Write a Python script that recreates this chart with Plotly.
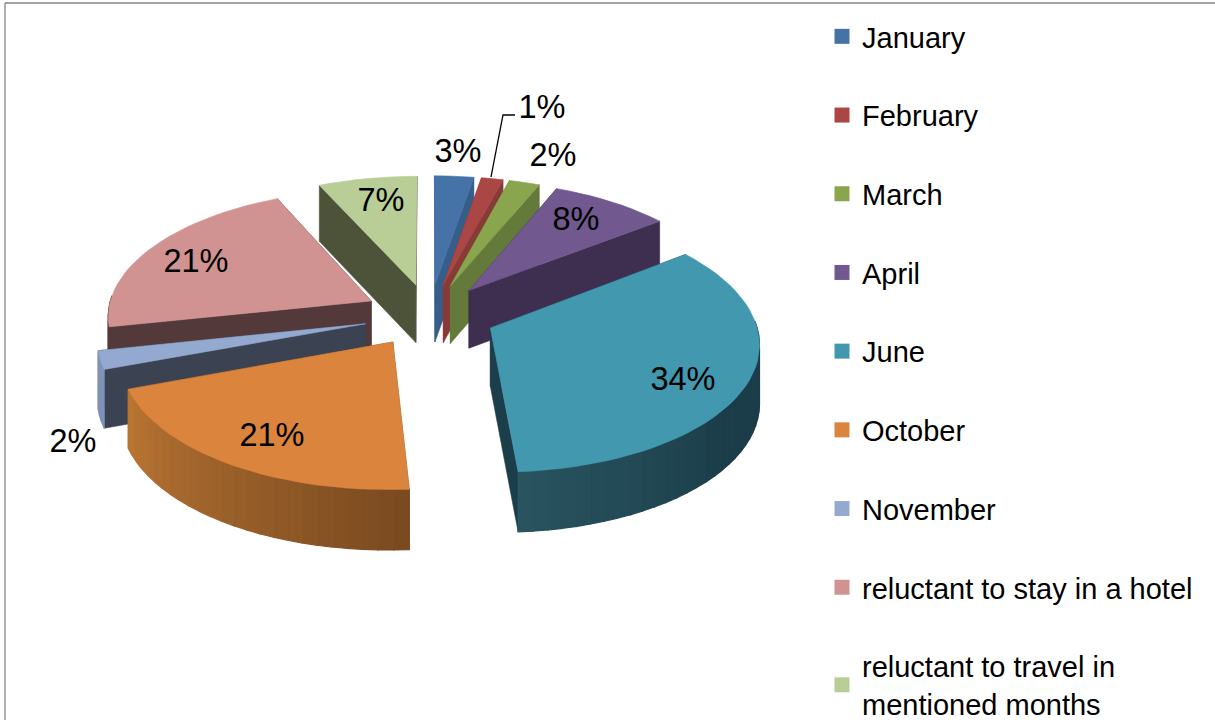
import math
import plotly.graph_objects as go

# ---- data ----
categories = ["January", "February", "March", "April", "June", "October",
              "November", "reluctant to stay in a hotel", "reluctant to travel in<br>mentioned months"]
values = [2.7, 1.49, 2.11, 8.28, 34.32, 20.5, 2.3, 21.49, 6.81]
labels = ["3%", "1%", "2%", "8%", "34%", "21%", "2%", "21%", "7%"]

# ---- styles ----
top_colors = ["#4572A7", "#AA4643", "#89A54E", "#71588F", "#4198AF", "#DB843D", "#93A9CF", "#D19392", "#B9CD96"]
wall_colors = ["#365E8A", "#883A38", "#647A3A", "#3E2F50", "#1C3E4A", "#7A4A20", "#3B4252", "#54393A", "#4C5339"]
rim_from = ["#365E8A", "#883A38", "#647A3A", "#3E2F50", "#1B3D49", "#7A4A20", "#7F93B8", "#54393A", "#4C5339"]
rim_to = ["#365E8A", "#883A38", "#647A3A", "#3E2F50", "#28535F", "#BA7533", "#7F93B8", "#54393A", "#4C5339"]
draw_order = [0, 1, 2, 3, 8, 7, 6, 5, 4]
label_px = [(458, 154), (542, 110), (553, 158), (576, 222), (683, 382), (272, 438), (73, 444), (196, 264), (381, 203)]

# ---- projection of the tilted, exploded pie ----
CX, CY, AX, AY, PERSP, EXPLODE, DEPTH = 429.5, 315, 264, 126, 0.105, 0.25, 58


def project(X, Y):
    f = 1 / (1 + PERSP * Y)
    return CX + AX * X * f, CY - AY * Y * f, DEPTH * f ** 0.3


def mix(a, b, t):
    pa = [int(a[i:i + 2], 16) for i in (1, 3, 5)]
    pb = [int(b[i:i + 2], 16) for i in (1, 3, 5)]
    return "#%02X%02X%02X" % tuple(round(p + (q - p) * t) for p, q in zip(pa, pb))


total = sum(values)
edges = [0.0]
for v in values:
    edges.append(edges[-1] + v / total * 2 * math.pi)

fig = go.Figure()


def poly(xs, ys, color, name, width=0.6):
    fig.add_trace(go.Scatter(x=xs + xs[:1], y=ys + ys[:1], mode="lines", fill="toself", fillcolor=color,
                             line=dict(color=color, width=width), hoverinfo="skip", showlegend=False, name=name))


for i in draw_order:
    a0, a1 = edges[i], edges[i + 1]
    mid = (a0 + a1) / 2
    ox, oy = EXPLODE * math.sin(mid), EXPLODE * math.cos(mid)
    n = max(3, int((a1 - a0) / 0.05))
    arc = [a0 + (a1 - a0) * k / n for k in range(n + 1)]
    pts = [project(ox + math.sin(a), oy + math.cos(a)) for a in arc]
    apex = project(ox, oy)
    # radial walls
    for p in (pts[0], pts[-1]):
        poly([apex[0], p[0], p[0], apex[0]],
             [apex[1], p[1], p[1] + p[2], apex[1] + apex[2]], wall_colors[i], categories[i])
    # outer rim, shaded segment by segment
    for k in range(n):
        if math.cos((arc[k] + arc[k + 1]) / 2) < 0.03:
            p, q = pts[k], pts[k + 1]
            t = k / max(1, n - 1)
            col = mix(rim_from[i], rim_to[i], t if i == 5 else max(0, (t - 0.6) / 0.4))
            poly([p[0], q[0], q[0], p[0]], [p[1], q[1], q[1] + q[2], p[1] + p[2]], col, categories[i], width=1.2)
    # top face
    poly([apex[0]] + [p[0] for p in pts], [apex[1]] + [p[1] for p in pts], top_colors[i], categories[i])

# leader line of the 1% label
fig.add_trace(go.Scatter(x=[491, 503, 515], y=[177, 115, 115], mode="lines", line=dict(color="black", width=1.3),
                         hoverinfo="skip", showlegend=False))

# percentage labels
fig.add_trace(go.Scatter(x=[p[0] for p in label_px], y=[p[1] for p in label_px], mode="text", text=labels,
                         textposition="middle center", textfont=dict(family="Liberation Sans", size=32.5, color="black"),
                         hoverinfo="skip", showlegend=False))

# legend entries
for i, c in enumerate(categories):
    fig.add_trace(go.Scatter(x=[None], y=[None], mode="markers", name=c, legendgroup=c,
                             marker=dict(symbol="square", size=15, color=top_colors[i])))

fig.update_layout(
    width=1215, height=745, margin=dict(l=0, r=0, t=0, b=25), paper_bgcolor="white", plot_bgcolor="white",
    xaxis=dict(range=[0, 1215], visible=False, fixedrange=True),
    yaxis=dict(range=[720, 0], visible=False, fixedrange=True),
    legend=dict(x=822 / 1215, y=1 - 11 / 720, xanchor="left", yanchor="top", tracegroupgap=38,
                bgcolor="rgba(0,0,0,0)", itemsizing="trace", maxheight=760,
                font=dict(family="Liberation Sans", size=29, color="black")),
    shapes=[dict(type="line", xref="x", yref="y", x0=5, y0=3, x1=1215, y1=3, line=dict(color="#868686", width=1.3)),
            dict(type="line", xref="x", yref="y", x0=5, y0=3, x1=5, y1=745, line=dict(color="#868686", width=1.3))],
)

fig.write_html("out.html", config=dict(displayModeBar=False),
               post_script="document.body.style.margin='0';document.body.style.overflow='hidden';")
